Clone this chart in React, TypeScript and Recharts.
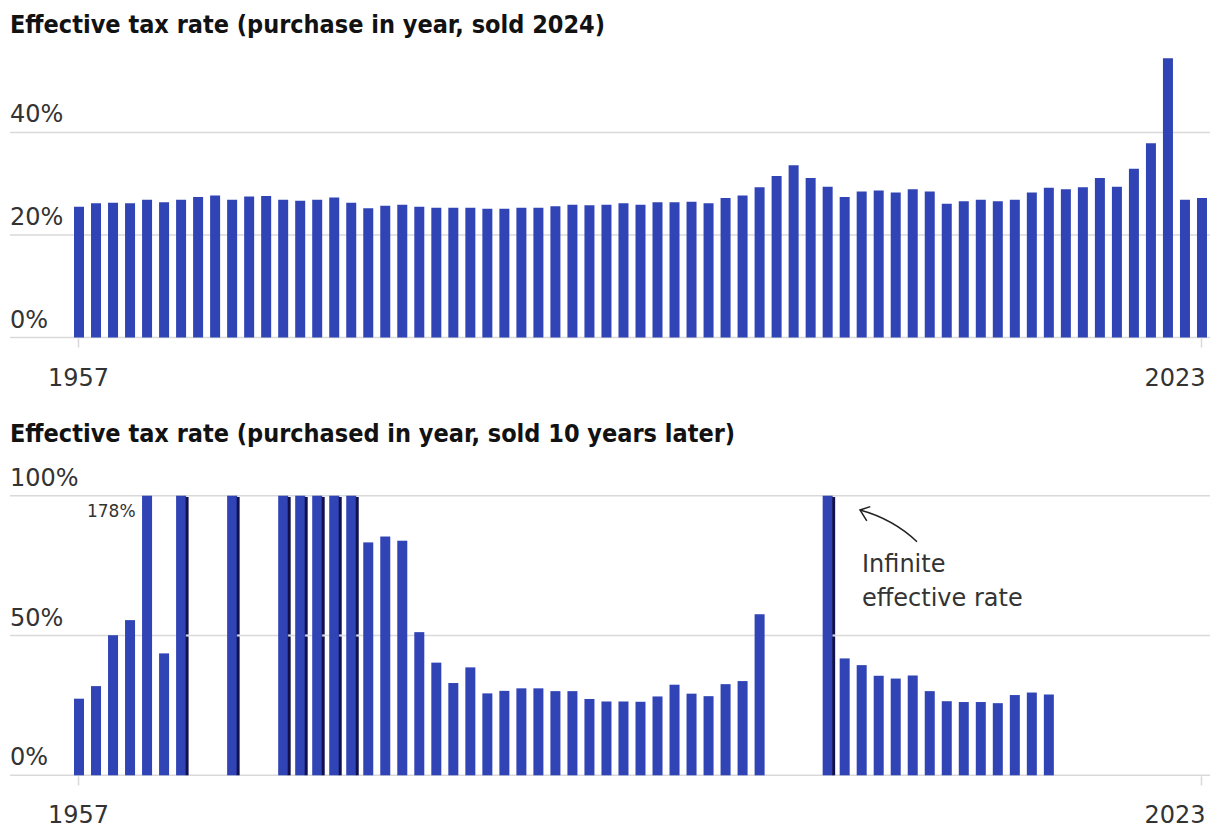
import React from "react";
import { BarChart, Bar, XAxis, YAxis, CartesianGrid, LabelList } from "recharts";

const INF = Infinity;

const years = [
  1957, 1958, 1959, 1960, 1961, 1962, 1963, 1964, 1965, 1966, 1967, 1968, 1969, 1970,
  1971, 1972, 1973, 1974, 1975, 1976, 1977, 1978, 1979, 1980, 1981, 1982, 1983, 1984,
  1985, 1986, 1987, 1988, 1989, 1990, 1991, 1992, 1993, 1994, 1995, 1996, 1997, 1998,
  1999, 2000, 2001, 2002, 2003, 2004, 2005, 2006, 2007, 2008, 2009, 2010, 2011, 2012,
  2013, 2014, 2015, 2016, 2017, 2018, 2019, 2020, 2021, 2022, 2023,
];

// effective rate, bought in year, sold 2024
const soldIn2024 = [
  25.5, 26.2, 26.3, 26.2, 26.9, 26.4, 26.9, 27.4, 27.7, 26.9, 27.5, 27.6, 26.9, 26.7,
  26.9, 27.3, 26.3, 25.2, 25.7, 25.9, 25.5, 25.3, 25.3, 25.3, 25.1, 25.1, 25.3, 25.3,
  25.6, 25.9, 25.8, 25.9, 26.2, 25.9, 26.4, 26.4, 26.5, 26.2, 27.2, 27.7, 29.3, 31.5,
  33.6, 31.1, 29.4, 27.4, 28.5, 28.7, 28.3, 28.9, 28.5, 26.1, 26.6, 26.9, 26.6, 26.9,
  28.3, 29.2, 28.9, 29.3, 31.1, 29.4, 32.9, 37.9, 54.5, 26.9, 27.2,
];

// effective rate, bought in year, sold 10 years later (INF = infinite rate, null = no bar)
const soldTenLater: (number | null)[] = [
  27.4, 31.9, 50.1, 55.5, 178, 43.6, INF, null, null, INF, null, null, INF, INF,
  INF, INF, INF, 83.3, 85.4, 83.9, 51.2, 40.3, 33.0, 38.6, 29.3, 30.2, 31.1, 31.1,
  30.1, 30.1, 27.3, 26.4, 26.4, 26.3, 28.2, 32.4, 29.2, 28.3, 32.6, 33.7, 57.6, null,
  null, null, INF, 41.8, 39.4, 35.6, 34.6, 35.7, 30.1, 26.5, 26.2, 26.2, 25.8, 28.7,
  29.6, 28.9, null, null, null, null, null, null, null, null, null,
];

const topTicks = [0, 20, 40];
const bottomTicks = [0, 50, 100];
const labeledYears = [1957, 2023];

const BLUE = "#3144b5";
const DARK = "#12114f";
const GRID = "#d9d9d9";
const INK = "#333333";
const FONT = "'DejaVu Sans', sans-serif";
const TITLE_FONT = "'Liberation Sans Narrow', 'DejaVu Sans Condensed', 'Arial Narrow', sans-serif";

const topData = years.map((year, i) => ({ year, rate: soldIn2024[i] }));
const BOTTOM_MAX = 100;
const bottomData = years.map((year, i) => {
  const v = soldTenLater[i];
  return {
    year,
    raw: v,
    inf: v === INF,
    rate: v === null ? null : Math.min(v, BOTTOM_MAX),
  };
});

const gridLine = (props: any) => (
  <line
    key={`g-${props.y1}`}
    x1={10}
    x2={1210}
    y1={props.y1}
    y2={props.y2}
    stroke={GRID}
    strokeWidth={1.5}
  />
);

const YTick = ({ y, payload }: any) => (
  <text x={10} y={y - 10} fontSize={24} fill={INK} fontFamily={FONT}>
    {payload.value}%
  </text>
);

const XTick = ({ x, y, payload }: any) => {
  if (!labeledYears.includes(payload.value)) return <g />;
  const last = payload.value === labeledYears[labeledYears.length - 1];
  return (
    <g>
      <line x1={x} x2={x} y1={y + 1} y2={y + 10} stroke={GRID} strokeWidth={1.5} />
      <text
        x={last ? x + 4 : x}
        y={y + 48}
        textAnchor={last ? "end" : "middle"}
        fontSize={24}
        fill={INK}
        fontFamily={FONT}
      >
        {payload.value}
      </text>
    </g>
  );
};

const RateBar = (props: any) => {
  const { x, y, width, height, payload } = props;
  if (!height || height <= 0) return <g />;
  if (!payload.inf) return <rect x={x} y={y} width={width} height={height} fill={BLUE} />;
  const mid = y + height * (1 - 50 / payload.rate);
  const sx = x + width - 0.5;
  return (
    <g>
      <rect x={x} y={y} width={width} height={height} fill={BLUE} />
      <rect x={sx} y={y + 1.3} width={3} height={mid - 1 - (y + 1.3)} fill={DARK} />
      <rect x={sx} y={mid + 1} width={3} height={y + height - mid - 1} fill={DARK} />
    </g>
  );
};

const OverflowLabel = (p: any) => {
  const v = p.value;
  if (v === null || v === undefined || !isFinite(v) || v <= BOTTOM_MAX) return null;
  return (
    <text x={p.x - 6.5} y={p.y + 21} textAnchor="end" fontSize={17} fill={INK} fontFamily={FONT}>
      {v}%
    </text>
  );
};

const titleStyle: React.CSSProperties = {
  position: "absolute",
  left: 10,
  fontFamily: TITLE_FONT,
  fontWeight: 700,
  fontSize: 25,
  color: "#121212",
  whiteSpace: "nowrap",
  lineHeight: "30px",
};

export default function App() {
  return (
    <div style={{ position: "absolute", left: 0, top: 0, width: 1220, height: 836, background: "#fff" }}>
      <div style={{ ...titleStyle, top: 10 }}>Effective tax rate (purchase in year, sold 2024)</div>
      <div style={{ position: "absolute", left: 0, top: 0 }}>
        <BarChart width={1220} height={400} data={topData} margin={{ top: 55.6, right: 10, left: 0, bottom: 0.5 }}>
          <CartesianGrid vertical={false} horizontal={gridLine} horizontalValues={topTicks} />
          <YAxis
            width={70}
            domain={[0, 55]}
            ticks={topTicks}
            axisLine={false}
            tickLine={false}
            tick={<YTick />}
          />
          <XAxis
            dataKey="year"
            height={62}
            interval={0}
            axisLine={false}
            tickLine={false}
            tickSize={0}
            tickMargin={0}
            tick={<XTick />}
          />
          <Bar dataKey="rate" fill={BLUE} barSize={10} isAnimationActive={false} />
        </BarChart>
      </div>

      <div style={{ ...titleStyle, top: 419 }}>
        Effective tax rate (purchased in year, sold 10 years later)
      </div>
      <div style={{ position: "absolute", left: 0, top: 420 }}>
        <BarChart width={1220} height={420} data={bottomData} margin={{ top: 75.7, right: 10, left: 0, bottom: 2.7 }}>
          <CartesianGrid vertical={false} horizontal={gridLine} horizontalValues={bottomTicks} />
          <YAxis
            width={70}
            domain={[0, BOTTOM_MAX]}
            ticks={bottomTicks}
            axisLine={false}
            tickLine={false}
            tick={<YTick />}
          />
          <XAxis
            dataKey="year"
            height={62}
            interval={0}
            axisLine={false}
            tickLine={false}
            tickSize={0}
            tickMargin={0}
            tick={<XTick />}
          />
          <Bar dataKey="rate" fill={BLUE} barSize={10} shape={RateBar} isAnimationActive={false}>
            <LabelList dataKey="raw" content={OverflowLabel} />
          </Bar>
        </BarChart>
      </div>

      <svg
        width={1220}
        height={836}
        style={{ position: "absolute", left: 0, top: 0, pointerEvents: "none" }}
      >
        <path d="M917,541.7 Q893,519 860,510" fill="none" stroke="#222" strokeWidth={1.5} />
        <path d="M870.3,506.6 L860,510 L866.8,520.8" fill="none" stroke="#222" strokeWidth={1.5} />
        <text x={862} y={572} fontSize={24} fill={INK} fontFamily={FONT}>
          Infinite
        </text>
        <text x={862} y={606} fontSize={24} fill={INK} fontFamily={FONT}>
          effective rate
        </text>
      </svg>
    </div>
  );
}
